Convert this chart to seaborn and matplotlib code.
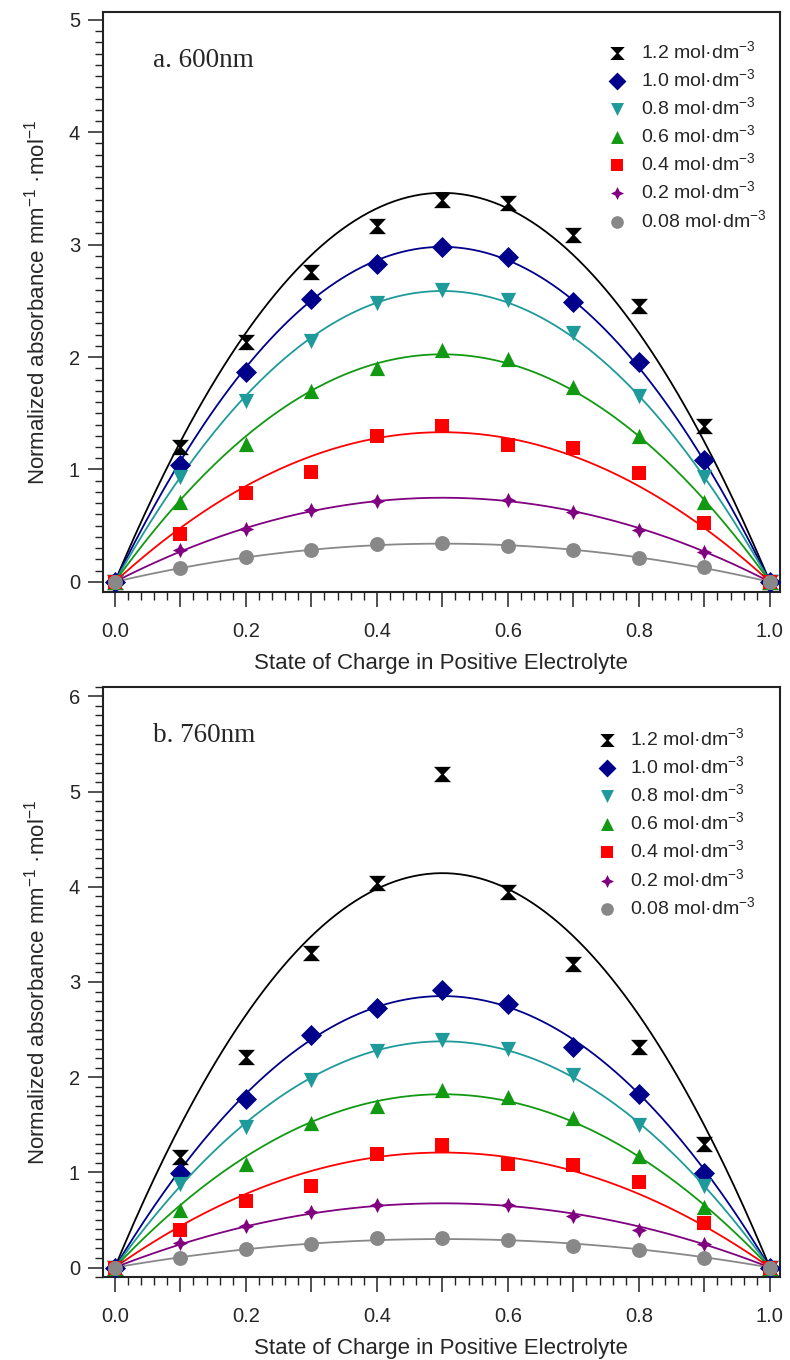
import numpy as np
import pandas as pd
import matplotlib
matplotlib.use("Agg")
import matplotlib.pyplot as plt
import seaborn as sns
from matplotlib.path import Path
from matplotlib.ticker import MultipleLocator, FuncFormatter

# --- data ---
soc = [0.0, 0.1, 0.2, 0.3, 0.4, 0.5, 0.6, 0.7, 0.8, 0.9, 1.0]
conc_labels = ["1.2", "1.0", "0.8", "0.6", "0.4", "0.2", "0.08"]

# panel a, 600 nm
a_12 = [0, 1.20, 2.13, 2.76, 3.17, 3.40, 3.37, 3.09, 2.45, 1.39, 0]
a_10 = [0, 1.04, 1.87, 2.52, 2.83, 2.98, 2.89, 2.49, 1.96, 1.08, 0]
a_08 = [0, 0.93, 1.61, 2.14, 2.48, 2.60, 2.51, 2.21, 1.65, 0.93, 0]
a_06 = [0, 0.71, 1.23, 1.70, 1.90, 2.06, 1.98, 1.73, 1.30, 0.71, 0]
a_04 = [0, 0.43, 0.79, 0.98, 1.30, 1.39, 1.22, 1.19, 0.97, 0.52, 0]
a_02 = [0, 0.28, 0.47, 0.64, 0.72, np.nan, 0.73, 0.62, 0.46, 0.27, 0]
a_008 = [0, 0.12, 0.22, 0.28, 0.34, 0.345, 0.32, 0.28, 0.21, 0.13, 0]

# panel b, 760 nm
b_12 = [0, 1.16, 2.21, 3.30, 4.04, 5.19, 3.95, 3.19, 2.32, 1.30, 0]
b_10 = [0, 0.99, 1.77, 2.44, 2.73, 2.92, 2.77, 2.32, 1.82, 0.99, 0]
b_08 = [0, 0.88, 1.48, 1.97, 2.28, 2.39, 2.30, 2.02, 1.50, 0.86, 0]
b_06 = [0, 0.60, 1.09, 1.52, 1.70, 1.87, 1.79, 1.57, 1.17, 0.64, 0]
b_04 = [0, 0.39, 0.70, 0.86, 1.19, 1.29, 1.09, 1.08, 0.90, 0.47, 0]
b_02 = [0, 0.26, 0.44, 0.58, 0.66, np.nan, 0.66, 0.54, 0.39, 0.25, 0]
b_008 = [0, 0.105, 0.19, 0.245, 0.31, 0.31, 0.29, 0.23, 0.18, 0.10, 0]

# --- styling ---
colors = ["#000000", "#00008B", "#1F9A9A", "#119911", "#FF0000", "#800080", "#888888"]
hourglass = Path([(-1, 0.9), (1, 0.9), (0.15, 0), (1, -0.9), (-1, -0.9), (-0.15, 0), (-1, 0.9)],
                 [Path.MOVETO] + [Path.LINETO] * 5 + [Path.CLOSEPOLY])
star4 = [(0, 1), (0.33, 0.33), (1, 0), (0.33, -0.33), (0, -1), (-0.33, -0.33), (-1, 0), (-0.33, 0.33)]
markers = [hourglass, "D", "v", "^", "s", star4, "o"]
sizes = [150, 115, 120, 120, 115, 120, 115]

sns.set_style("ticks")
plt.rcParams["font.family"] = ["Liberation Sans", "DejaVu Sans"]
plt.rcParams["mathtext.fontset"] = "custom"
plt.rcParams["mathtext.rm"] = "Liberation Sans"
plt.rcParams["mathtext.it"] = "Liberation Sans"


def draw_panel(ax, series, tag, ylim, leg_anchor):
    x = np.array(soc)
    xs = np.linspace(0, 1, 200)
    g = x * (1 - x)
    for i, y in enumerate(series):
        y = np.array(y, dtype=float)
        ok = ~np.isnan(y)
        # least-squares fit of y = k * x * (1 - x)
        k = np.sum(y[ok] * g[ok]) / np.sum(g[ok] ** 2)
        fit = pd.DataFrame({"x": xs, "y": k * xs * (1 - xs)})
        sns.lineplot(data=fit, x="x", y="y", ax=ax, color=colors[i], lw=1.3, zorder=2)
    for i, y in enumerate(series):
        pts = pd.DataFrame({"x": soc, "y": y}).dropna()
        sns.scatterplot(data=pts, x="x", y="y", ax=ax, color=colors[i], marker=markers[i],
                        s=sizes[i], linewidth=0, zorder=3,
                        label=f"{conc_labels[i]} mol·dm$^{{-3}}$")

    ax.set_xlim(-0.018, 1.015)
    ax.set_ylim(*ylim)
    ax.xaxis.set_major_locator(MultipleLocator(0.1))
    ax.xaxis.set_minor_locator(MultipleLocator(0.02))
    ax.xaxis.set_major_formatter(FuncFormatter(
        lambda v, p: f"{v:.1f}" if round(v * 10) % 2 == 0 else ""))
    ax.yaxis.set_major_locator(MultipleLocator(1))
    ax.yaxis.set_minor_locator(MultipleLocator(0.1))
    ax.tick_params(axis="both", which="major", direction="out", length=10.5, width=1.1,
                   labelsize=14.5, color="#222222")
    ax.tick_params(axis="both", which="minor", direction="out", length=5.5, width=1.0,
                   color="#222222")
    ax.tick_params(axis="x", which="major", pad=11)
    ax.tick_params(axis="y", which="major", pad=6)
    for sp in ax.spines.values():
        sp.set_visible(True)
        sp.set_linewidth(1.5)
        sp.set_color("#222222")

    ax.set_xlabel("State of Charge in Positive Electrolyte", fontsize=16, labelpad=9)
    ax.set_ylabel("Normalized absorbance mm$^{-1}$ ·mol$^{-1}$", fontsize=16, labelpad=14)
    ax.text(0.074, 0.917, tag, transform=ax.transAxes, fontsize=19.5,
            family=["Liberation Serif", "DejaVu Serif"], va="center", ha="left")

    ax.legend(loc="upper right", bbox_to_anchor=leg_anchor, frameon=False,
              fontsize=14, handletextpad=0.2, labelspacing=0.32,
              markerscale=0.85, borderaxespad=0.3)


fig = plt.figure(figsize=(7.9, 13.6), dpi=100)
ax1 = fig.add_axes([0.1304, 0.5647, 0.8566, 0.4265])
ax2 = fig.add_axes([0.1304, 0.0610, 0.8566, 0.4339])

draw_panel(ax1, [a_12, a_10, a_08, a_06, a_04, a_02, a_008], "a. 600nm", (-0.09, 5.07),
           (1.0, 0.975))
draw_panel(ax2, [b_12, b_10, b_08, b_06, b_04, b_02, b_008], "b. 760nm", (-0.1, 6.1),
           (0.985, 0.955))

fig.savefig("out.png", dpi=100)
